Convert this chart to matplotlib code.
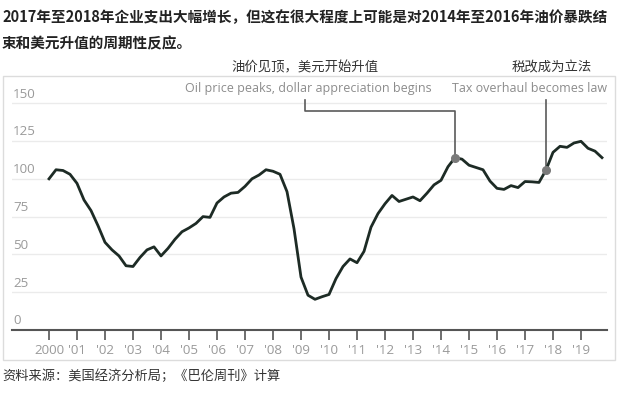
import matplotlib
matplotlib.use('Agg')
import matplotlib.pyplot as plt
from matplotlib.patches import Rectangle
import numpy as np

# quarterly index, 2000 Q1 .. 2019 Q4
years = list(range(2000, 2020))
values = [
    100, 106, 105.5, 103,      # 2000
    97, 86, 79, 69,            # 2001
    58, 53, 49, 42.5,          # 2002
    42, 48, 53, 55,            # 2003
    49, 54, 60, 65,            # 2004
    67.5, 70.5, 75, 74.5,      # 2005
    84, 88, 90.5, 91,          # 2006
    95, 100, 102.5, 106,       # 2007
    105, 103, 91.5, 67,        # 2008
    35, 23, 20.3, 22,          # 2009
    23.5, 34, 42, 47,          # 2010
    44.5, 52, 68, 77,          # 2011
    83.5, 89, 85, 86.5,        # 2012
    88, 85.5, 90.5, 96,        # 2013
    99, 108, 114, 113,         # 2014
    109, 107.5, 106, 98.5,     # 2015
    93.7, 93, 95.5, 94.2,      # 2016
    98.2, 98, 97.6, 105.8,     # 2017
    117.5, 121.5, 120.8, 123.7,  # 2018
    124.8, 120.2, 118.3, 114,  # 2019
]
quarters = [y + q / 4 for y in years for q in range(4)]

y_ticks = [0, 25, 50, 75, 100, 125, 150]
x_labels = ['2000'] + ["'%02d" % (y % 100) for y in years[1:]]

title = ('2017年至2018年企业支出大幅增长，但这在很大程度上可能是对2014年至2016年油价暴跌结\n'
         '束和美元升值的周期性反应。')
source = '资料来源：美国经济分析局；《巴伦周刊》计算'
oil_en = 'Oil price peaks, dollar appreciation begins'
oil_cn = '油价见顶，美元开始升值'
tax_en = 'Tax overhaul becomes law'
tax_cn = '税改成为立法'
oil_at = 2014.5
tax_at = 2017.75

CJK = ['Noto Sans CJK SC', 'DejaVu Sans']
LAT = ['Open Sans', 'DejaVu Sans']
GREY = '#9a9a9a'

fig = plt.figure(figsize=(6.19, 3.95), dpi=100)
fig.patch.set_facecolor('white')

# light panel border
fig.patches.append(Rectangle((3 / 619, 1 - 360 / 395), 612 / 619, 284 / 395,
                             transform=fig.transFigure, fill=False,
                             edgecolor='#dcdcdc', lw=1))

ax = fig.add_axes([12 / 619, 65 / 395, 595 / 619, 241.9 / 395])
ax.set_xlim(2000 - 37 / 28, 2000 + 558 / 28)
ax.set_ylim(0, 160)
for s in ['top', 'right', 'left']:
    ax.spines[s].set_visible(False)
ax.spines['bottom'].set_color('#555555')
ax.spines['bottom'].set_linewidth(1.5)

for v in y_ticks[1:]:
    ax.axhline(v, color='#ebebeb', lw=1, zorder=1)
for v in y_ticks:
    ax.text(2000 - 36 / 28, v + 6, str(v), ha='left', va='center',
            fontsize=9.6, color=GREY, family=LAT)
ax.set_yticks([])

ax.set_xticks(years)
ax.set_xticklabels(x_labels, family=LAT, fontsize=9.6, color=GREY)
ax.tick_params(axis='x', direction='out', length=7, width=1.2,
               color='#555555', pad=3)

ax.plot(quarters, values, color='#1d2b25', lw=2, zorder=3,
        solid_joinstyle='round')

# annotations
oil_v = values[quarters.index(oil_at)]
tax_v = values[quarters.index(tax_at)]
oil_x0 = 2000 + (305 - 49) / 28
top_v = (330 - 100) * 25 / 37.8
mid_v = (330 - 111) * 25 / 37.8
ax.plot([oil_x0, oil_x0, oil_at, oil_at], [top_v, mid_v, mid_v, oil_v],
        color='#5a5a5a', lw=1.2, zorder=2, clip_on=False)
ax.plot([tax_at, tax_at], [top_v, tax_v], color='#5a5a5a', lw=1.2,
        zorder=2, clip_on=False)
ax.plot([oil_at, tax_at], [oil_v, tax_v], 'o', color='#7a7a7a', ms=5.5,
        zorder=4)

en_v = (330 - 88) * 25 / 37.8
ax.text(2000 + (432 - 49) / 28, en_v, oil_en, ha='right', va='center',
        fontsize=9, color='#8c8c8c', family=LAT, clip_on=False)
ax.text(2000 + (607 - 49) / 28, en_v, tax_en, ha='right', va='center',
        fontsize=9, color='#8c8c8c', family=LAT, clip_on=False)

fig.text(305 / 619, 1 - 67 / 395, oil_cn, ha='center', va='center',
         fontsize=9.6, color='#333333', family=CJK)
fig.text(552 / 619, 1 - 67 / 395, tax_cn, ha='center', va='center',
         fontsize=9.6, color='#333333', family=CJK)

fig.text(2 / 619, 1 - 30 / 395, title, ha='left', va='center',
         fontsize=10.5, fontweight='bold', color='#222222', family=CJK,
         linespacing=1.8)
fig.text(2 / 619, 1 - 376 / 395, source, ha='left', va='center',
         fontsize=9.5, color='#333333', family=CJK)

fig.savefig('out.png', dpi=100)
